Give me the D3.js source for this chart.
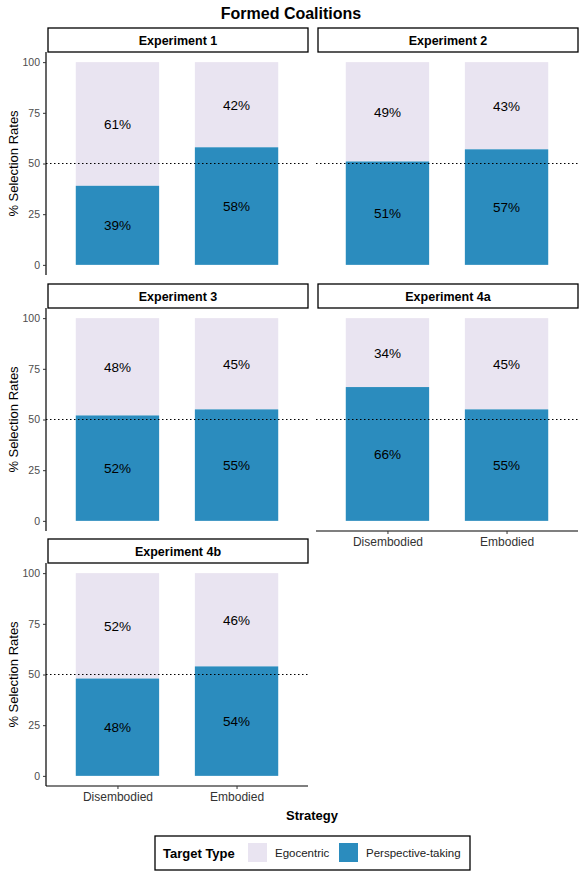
<!DOCTYPE html>
<html>
<head>
<meta charset="utf-8">
<script src="https://cdn.jsdelivr.net/npm/d3@7"></script>
<style>
  body { margin: 0; background: #fff; }
  text { font-family: "Liberation Sans", Arial, sans-serif; }
</style>
</head>
<body>
<div id="chart"></div>
<script>
var experiments = ["Experiment 1", "Experiment 2", "Experiment 3", "Experiment 4a", "Experiment 4b"];
var strategies = ["Disembodied", "Embodied"];
var targetTypes = ["Egocentric", "Perspective-taking"];
// perspective-taking share per experiment, [Disembodied, Embodied]
var perspective = [[39, 58], [51, 57], [52, 55], [66, 55], [48, 54]];
var egocentric = [[61, 42], [49, 43], [48, 45], [34, 45], [52, 46]];
var yTicks = [0, 25, 50, 75, 100];

var chart = {};
chart.w = 583;
chart.h = 875;
chart.color = d3.scaleOrdinal().domain(targetTypes).range(["#E9E4F1", "#2B8CBE"]);

chart.svg = d3.select("#chart").append("svg")
  .attr("width", chart.w)
  .attr("height", chart.h);

var panelW = 262, panelH = 223, stripH = 24;
var colX = [46, 316];
var rowY = [52, 308, 563];

var x = d3.scalePoint().domain(strategies).range([0, panelW]).padding(0.6);
var barW = x.step() * 0.7;
var y = d3.scaleLinear().domain([-5, 105]).range([panelH, 0]);

chart.svg.append("text")
  .attr("x", 291).attr("y", 19)
  .attr("text-anchor", "middle")
  .style("font-size", "16px").style("font-weight", "bold")
  .text("Formed Coalitions");

experiments.forEach(function(name, i) {
  var col = i % 2, row = Math.floor(i / 2);
  var g = chart.svg.append("g")
    .attr("transform", "translate(" + colX[col] + "," + rowY[row] + ")");

  // strip
  g.append("rect")
    .attr("x", 2).attr("y", -stripH).attr("width", panelW - 2).attr("height", stripH)
    .attr("fill", "#fff").attr("stroke", "#000").attr("stroke-width", 1.3);
  g.append("text")
    .attr("x", panelW / 2 + 1).attr("y", -stripH / 2 + 4.5)
    .attr("text-anchor", "middle")
    .style("font-size", "12.5px").style("font-weight", "bold")
    .text(name);

  var rows = strategies.map(function(s, j) {
    return { strategy: s, persp: perspective[i][j], ego: egocentric[i][j] };
  });

  // perspective-taking bottom, egocentric on top
  g.selectAll("rect.ego").data(rows).enter().append("rect")
    .attr("class", "ego")
    .attr("x", function(d) { return x(d.strategy) - barW / 2; })
    .attr("width", barW)
    .attr("y", y(100))
    .attr("height", function(d) { return y(d.persp) - y(100); })
    .attr("fill", chart.color("Egocentric"));
  g.selectAll("rect.persp").data(rows).enter().append("rect")
    .attr("class", "persp")
    .attr("x", function(d) { return x(d.strategy) - barW / 2; })
    .attr("width", barW)
    .attr("y", function(d) { return y(d.persp); })
    .attr("height", function(d) { return y(0) - y(d.persp); })
    .attr("fill", chart.color("Perspective-taking"));

  g.selectAll("text.lp").data(rows).enter().append("text")
    .attr("x", function(d) { return x(d.strategy); })
    .attr("y", function(d) { return y(d.persp / 2) + 5; })
    .attr("text-anchor", "middle").style("font-size", "13.5px")
    .text(function(d) { return d.persp + "%"; });
  g.selectAll("text.le").data(rows).enter().append("text")
    .attr("x", function(d) { return x(d.strategy); })
    .attr("y", function(d) { return y(d.persp + (100 - d.persp) / 2) + 5; })
    .attr("text-anchor", "middle").style("font-size", "13.5px")
    .text(function(d) { return d.ego + "%"; });

  // reference line at 50
  g.append("line")
    .attr("x1", 0).attr("x2", panelW)
    .attr("y1", y(50)).attr("y2", y(50))
    .attr("stroke", "#000").attr("stroke-width", 1)
    .attr("stroke-dasharray", "1.5,2.5");

  if (col === 0) {
    var ya = g.append("g").call(d3.axisLeft(y).tickValues(yTicks).tickSize(3).tickPadding(3));
    ya.select(".domain").attr("d", "M0,0V" + panelH).attr("stroke", "#000").attr("stroke-width", 1.2);
    ya.selectAll(".tick line").attr("stroke", "#333");
    ya.selectAll(".tick text").style("font-size", "10.5px").attr("fill", "#4d4d4d")
      .style("font-family", "'Liberation Sans', Arial, sans-serif");

    g.append("text")
      .attr("transform", "translate(" + (-28) + "," + (panelH / 2) + ") rotate(-90)")
      .attr("text-anchor", "middle").style("font-size", "13px")
      .text("% Selection Rates");
  }

  if (i >= 3) {
    var xa = g.append("g").attr("transform", "translate(0," + panelH + ")")
      .call(d3.axisBottom(x).tickSize(3).tickPadding(3));
    xa.select(".domain").attr("d", "M0,0H" + panelW).attr("stroke", "#000").attr("stroke-width", 1.2);
    xa.selectAll(".tick line").attr("stroke", "#333");
    xa.selectAll(".tick text").style("font-size", "12px").attr("fill", "#333")
      .style("font-family", "'Liberation Sans', Arial, sans-serif");
  }
});

chart.svg.append("text")
  .attr("x", 312).attr("y", 820)
  .attr("text-anchor", "middle")
  .style("font-size", "13px").style("font-weight", "bold")
  .text("Strategy");

// legend
var leg = chart.svg.append("g").attr("transform", "translate(155,836)");
leg.append("rect").attr("width", 315).attr("height", 34)
  .attr("fill", "#fff").attr("stroke", "#000").attr("stroke-width", 1.3);
leg.append("text").attr("x", 8).attr("y", 22)
  .style("font-size", "13px").style("font-weight", "bold").text("Target Type");
var keyX = [93, 184];
targetTypes.forEach(function(t, k) {
  leg.append("rect").attr("x", keyX[k]).attr("y", 7).attr("width", 19).attr("height", 19)
    .attr("fill", chart.color(t));
  leg.append("text").attr("x", keyX[k] + 27).attr("y", 21)
    .style("font-size", "11.5px").attr("fill", "#222").text(t);
});
</script>
</body>
</html>
